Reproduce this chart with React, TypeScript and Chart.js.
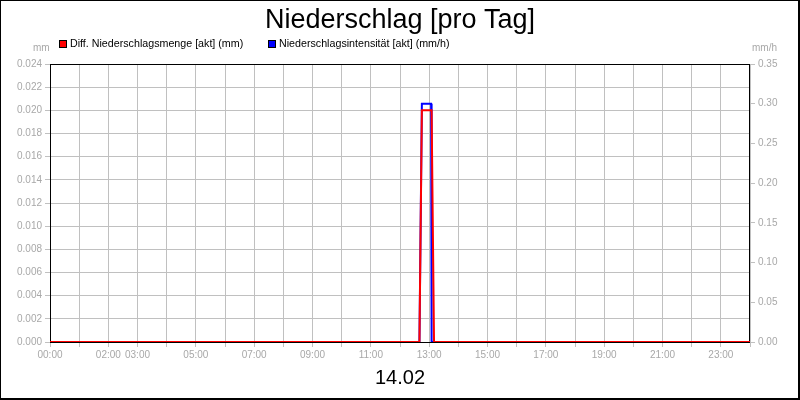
import React, { useEffect, useRef } from "react";
import { Chart, registerables } from "chart.js";

Chart.register(...registerables);

const TITLE = "Niederschlag [pro Tag]";
const DATE_LABEL = "14.02";
const LEFT_UNIT = "mm";
const RIGHT_UNIT = "mm/h";

const mengeLabel = "Diff. Niederschlagsmenge [akt] (mm)";
const mengeTimes = ["00:00", "12:40", "12:45", "13:05", "13:10", "24:00"];
const mengeValues = [0, 0, 0.02, 0.02, 0, 0];

const intensLabel = "Niederschlagsintensität [akt] (mm/h)";
const intensTimes = ["00:00", "12:40", "12:45", "13:04", "13:05", "24:00"];
const intensValues = [0, 0, 0.3, 0.3, 0, 0];

const xTickHours = [0, 2, 3, 5, 7, 9, 11, 13, 15, 17, 19, 21, 23];

const FONT = "'Liberation Sans', Arial, sans-serif";
const GRID = "#c0c0c0";
const TICK_TEXT = "#a8a8a8";

function toHours(t: string): number {
  const [h, m] = t.split(":").map(Number);
  return h + m / 60;
}

function pad2(n: number): string {
  return n < 10 ? "0" + n : String(n);
}

const decorPlugin = {
  id: "decor",
  beforeDatasetsDraw(chart: any) {
    const { ctx, chartArea } = chart;
    ctx.save();
    ctx.strokeStyle = "#000";
    ctx.lineWidth = 1;
    ctx.strokeRect(
      Math.round(chartArea.left) + 0.5,
      Math.round(chartArea.top) + 0.5,
      Math.round(chartArea.right - chartArea.left) - 1,
      Math.round(chartArea.bottom - chartArea.top)
    );
    ctx.restore();
  },
  afterDraw(chart: any) {
    const { ctx, width, height } = chart;
    ctx.save();
    // title
    ctx.fillStyle = "#000";
    ctx.font = `27px ${FONT}`;
    ctx.textAlign = "center";
    ctx.textBaseline = "alphabetic";
    ctx.fillText(TITLE, 400, 28);
    // legend
    ctx.font = `10.7px ${FONT}`;
    ctx.textAlign = "left";
    ctx.textBaseline = "middle";
    const items = [
      { x: 59, color: "#ff0000", text: mengeLabel },
      { x: 268, color: "#0000ff", text: intensLabel },
    ];
    for (const it of items) {
      ctx.fillStyle = it.color;
      ctx.fillRect(it.x, 40, 8, 8);
      ctx.strokeStyle = "#000";
      ctx.lineWidth = 1;
      ctx.strokeRect(it.x + 0.5, 40.5, 7, 7);
      ctx.fillStyle = "#000";
      ctx.fillText(it.text, it.x + 11, 44.5);
    }
    // units
    ctx.font = `10px ${FONT}`;
    ctx.fillStyle = TICK_TEXT;
    ctx.textAlign = "left";
    ctx.fillText(LEFT_UNIT, 33, 48.5);
    ctx.fillText(RIGHT_UNIT, 752, 48.5);
    // outer frame
    ctx.fillStyle = "#000";
    ctx.fillRect(0, 0, width, 1);
    ctx.fillRect(0, 0, 1, height);
    ctx.fillRect(width - 2, 0, 2, height);
    ctx.fillRect(0, height - 2, width, 2);
    ctx.restore();
  },
};

export default function App() {
  const canvasRef = useRef<HTMLCanvasElement | null>(null);

  useEffect(() => {
    document.body.style.margin = "0";
    const canvas = canvasRef.current;
    if (!canvas) return;
    const chart = new Chart(canvas, {
      type: "line",
      data: {
        datasets: [
          {
            label: mengeLabel,
            data: mengeTimes.map((t, i) => ({ x: toHours(t), y: mengeValues[i] })),
            borderColor: "#ff0000",
            backgroundColor: "#ff0000",
            borderWidth: 2,
            pointRadius: 0,
            tension: 0,
            yAxisID: "y",
          },
          {
            label: intensLabel,
            data: intensTimes.map((t, i) => ({ x: toHours(t), y: intensValues[i] })),
            borderColor: "#0000ff",
            backgroundColor: "#0000ff",
            borderWidth: 2,
            pointRadius: 0,
            tension: 0,
            yAxisID: "y1",
          },
        ],
      },
      options: {
        animation: false,
        responsive: true,
        maintainAspectRatio: false,
        layout: { padding: { top: 64, left: 0, right: 0, bottom: 0 } },
        plugins: {
          legend: { display: false },
          title: { display: false },
          tooltip: { enabled: false },
        },
        scales: {
          x: {
            type: "linear",
            min: 0,
            max: 24,
            afterFit(scale: any) {
              scale.height = 58;
            },
            ticks: {
              stepSize: 1,
              autoSkip: false,
              maxRotation: 0,
              color: TICK_TEXT,
              font: { family: FONT, size: 10 },
              padding: 2,
              callback: (v: any) => {
                const n = Number(v);
                return xTickHours.includes(n) ? pad2(n) + ":00" : "";
              },
            },
            grid: { color: GRID, tickColor: GRID, tickLength: 5, lineWidth: 1 },
            border: { display: false },
            title: {
              display: true,
              text: DATE_LABEL,
              color: "#000",
              font: { family: FONT, size: 20 },
              padding: { top: 0, bottom: 10 },
            },
          },
          y: {
            type: "linear",
            position: "left",
            min: 0,
            max: 0.024,
            afterFit(scale: any) {
              scale.width = 50;
            },
            ticks: {
              stepSize: 0.002,
              color: TICK_TEXT,
              font: { family: FONT, size: 10 },
              padding: 3,
              callback: (v: any) => Number(v).toFixed(3),
            },
            grid: { color: GRID, tickColor: GRID, tickLength: 5, lineWidth: 1 },
            border: { display: false },
          },
          y1: {
            type: "linear",
            position: "right",
            min: 0,
            max: 0.35,
            afterFit(scale: any) {
              scale.width = 50;
            },
            ticks: {
              stepSize: 0.05,
              color: TICK_TEXT,
              font: { family: FONT, size: 10 },
              padding: 3,
              callback: (v: any) => Number(v).toFixed(2),
            },
            grid: { drawOnChartArea: false, tickColor: GRID, tickLength: 5 },
            border: { display: false },
          },
        },
      },
      plugins: [decorPlugin],
    });
    return () => chart.destroy();
  }, []);

  return (
    <div style={{ position: "fixed", left: 0, top: 0, width: 800, height: 400, background: "#fff" }}>
      <canvas ref={canvasRef} />
    </div>
  );
}
